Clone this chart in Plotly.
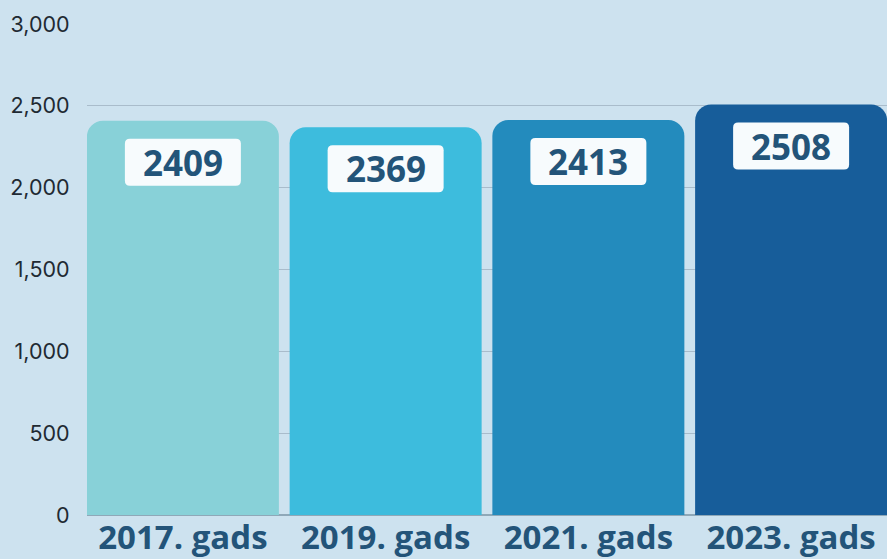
import plotly.graph_objects as go

categories = ["2017. gads", "2019. gads", "2021. gads", "2023. gads"]
values = [2409, 2369, 2413, 2508]
bar_colors = ["#88d1d8", "#3dbcdd", "#238bbd", "#175d9a"]
y_ticks = [0, 500, 1000, 1500, 2000, 2500, 3000]

BG = "#cde2ef"
TXT = "#235479"

fig = go.Figure()
fig.add_trace(go.Bar(
    x=list(range(len(categories))),
    y=values,
    marker=dict(color=bar_colors, cornerradius=16, line=dict(width=0)),
    hoverinfo="skip",
))

# rounded white label boxes, sized in pixels and anchored at each bar top
def rounded_rect(w, h, r, dy):
    x0, x1 = -w / 2, w / 2
    y1, y0 = -dy, -dy - h
    return (f"M {x0+r},{y0} L {x1-r},{y0} Q {x1},{y0} {x1},{y0+r} "
            f"L {x1},{y1-r} Q {x1},{y1} {x1-r},{y1} L {x0+r},{y1} "
            f"Q {x0},{y1} {x0},{y1-r} L {x0},{y0+r} Q {x0},{y0} {x0+r},{y0} Z")

for i, v in enumerate(values):
    fig.add_shape(
        type="path", xref="x", yref="y",
        xsizemode="pixel", ysizemode="pixel",
        xanchor=i, yanchor=v,
        path=rounded_rect(116, 47, 5, 18),
        fillcolor="#f7fbfd", line=dict(width=0), layer="above",
    )
    fig.add_annotation(
        x=i, y=v, yshift=-41.5, text=f"<b>{v}</b>", showarrow=False,
        font=dict(family="Open Sans", size=35, color=TXT),
        xanchor="center", yanchor="middle",
    )

fig.update_layout(
    width=887, height=559,
    margin=dict(l=87, r=0, t=24, b=44),
    paper_bgcolor=BG, plot_bgcolor=BG,
    bargap=0.053,
    showlegend=False,
    xaxis=dict(
        range=[-0.473, 3.473],
        tickmode="array", tickvals=list(range(len(categories))),
        ticktext=[f"<b>{c}</b>" for c in categories],
        tickfont=dict(family="Open Sans", size=33, color=TXT),
        showgrid=False, zeroline=False, showline=False,
        ticks="", automargin=False, fixedrange=True,
    ),
    yaxis=dict(
        range=[0, 3000],
        tickmode="array", tickvals=y_ticks,
        ticktext=[f"{t:,}" for t in y_ticks],
        tickfont=dict(family="Inter", size=21.5, color="#1f2a33"),
        showgrid=True, gridcolor="#a9bccb", gridwidth=1,
        zeroline=True, zerolinecolor="#8fa8b8", zerolinewidth=1.5,
        ticks="outside", ticklen=12, tickcolor="rgba(0,0,0,0)",
        automargin=False, fixedrange=True,
    ),
)

fig.write_html(
    "out.html",
    config={"displayModeBar": False, "staticPlot": True},
    post_script="document.body.style.margin='0';document.body.style.overflow='hidden';",
)
